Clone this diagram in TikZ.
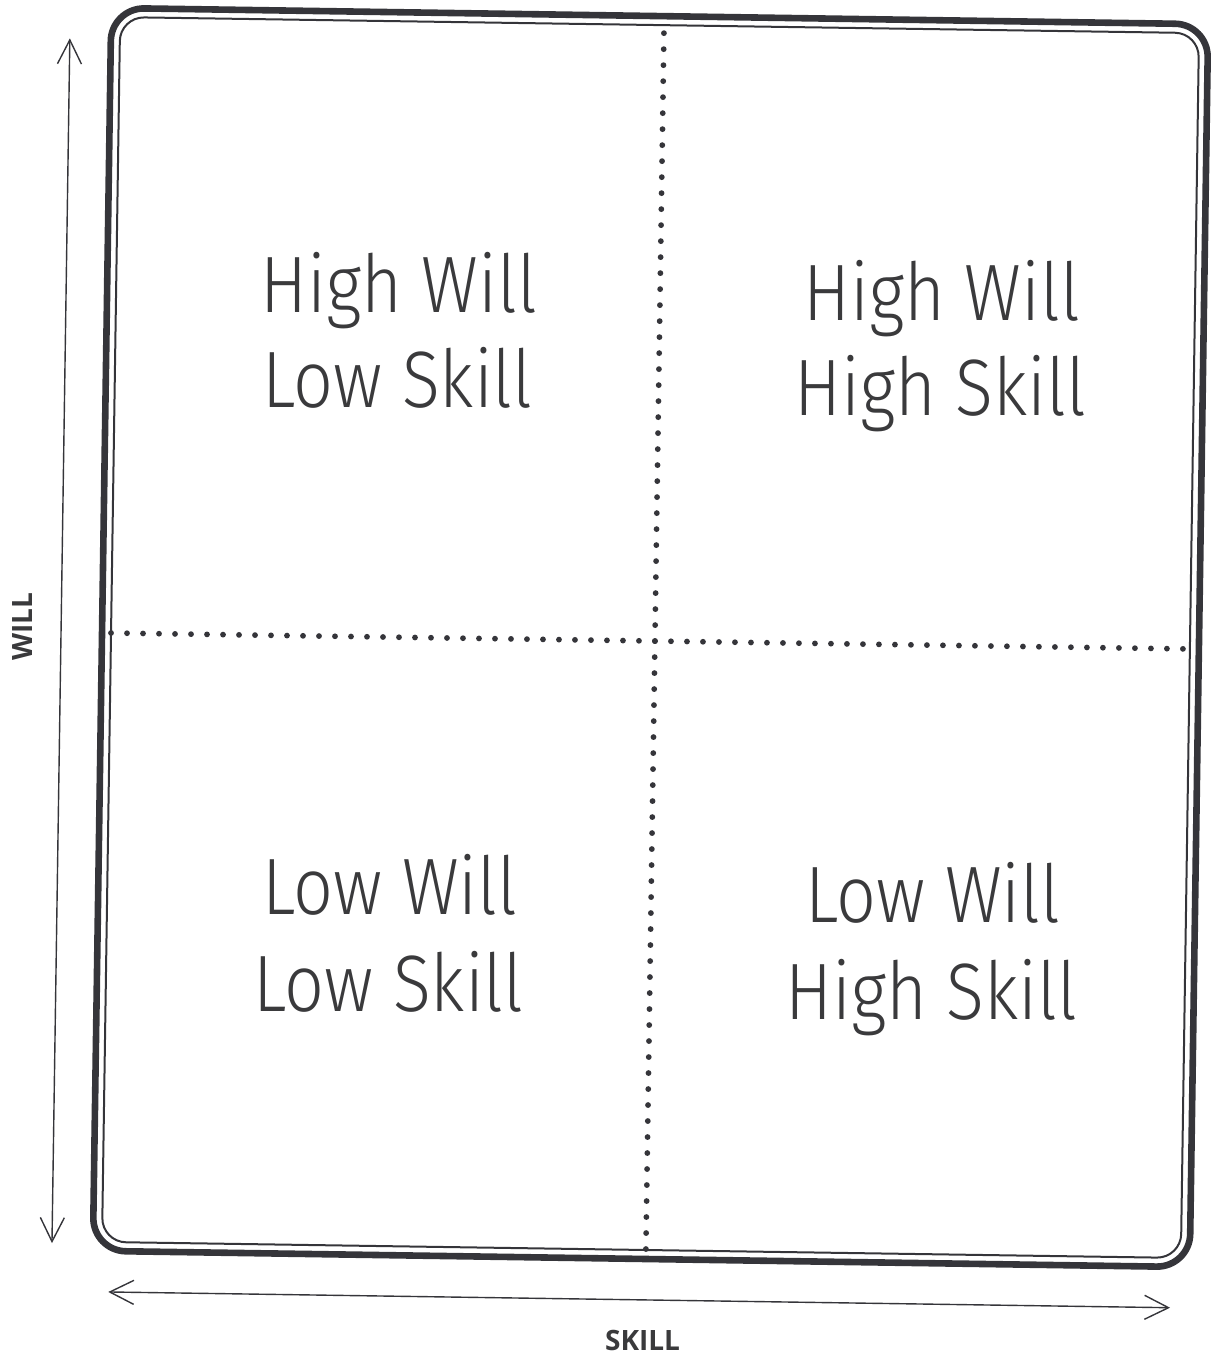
\documentclass[tikz,border=0pt]{standalone}
\usepackage{fontspec}
\usetikzlibrary{arrows.meta}
\IfFontExistsTF{Fira Sans Light}{\newfontfamily\qfont{Fira Sans Light}[FakeStretch=0.875]}{%
  \IfFontExistsTF{Open Sans Light}{\newfontfamily\qfont{Open Sans Light}[FakeStretch=0.875]}{\newfontfamily\qfont{Fira Sans}[FakeStretch=0.875]}}
\newfontfamily\labfont{Open Sans}
\definecolor{ink}{HTML}{35353A}
\definecolor{txt}{HTML}{3A3A3C}
\tikzset{
  frameouter/.style={draw=ink, line width=3.3pt, rounded corners=16.5pt},
  frameinner/.style={draw=ink, line width=1pt, rounded corners=12pt},
  dotline/.style={draw=ink, line width=2.9pt, line cap=round, dash pattern=on 0pt off 8pt},
  axisarrow/.style={draw=ink, line width=0.7pt, {Straight Barb[length=12pt,width=12pt]}-{Straight Barb[length=12pt,width=12pt]}},
  qtext/.style={text=txt, font=\qfont\fontsize{40}{48}\selectfont, inner sep=0pt, anchor=base},
  axislabel/.style={text=txt, font=\labfont\bfseries\fontsize{14}{16}\selectfont, inner sep=0pt},
}
\begin{document}
\begin{tikzpicture}[x=0.5pt,y=-0.5pt]
\useasboundingbox (0,0) rectangle (1212,1355);
\begin{scope}[rotate around={-0.85:(650,638)}]
  % frame
  \draw[frameouter] (102,16) rectangle (1199,1259);
  \draw[frameinner] (111,25) rectangle (1190,1250);
  % dotted dividers
  \coordinate (vtop) at (655,33);
  \coordinate (vbot) at (655,1250);
  \coordinate (hleft) at (111,641);
  \coordinate (hright) at (1192,641);
  \draw[dotline] (vtop) -- (vbot);
  \draw[dotline] (hleft) -- (hright);
  % axes
  \coordinate (wtop) at (61,47);
  \coordinate (wbot) at (61,1252);
  \coordinate (sleft) at (118,1300);
  \coordinate (sright) at (1180,1300);
  \draw[axisarrow] (wtop) -- (wbot);
  \draw[axisarrow] (sleft) -- (sright);
  \node[axislabel, rotate=90] (will) at (22,636) {WILL};
  \node[axislabel] (skill) at (653,1341) {SKILL};
  % quadrant texts
  \node[qtext] (tl1) at (394,316) {High Will};
  \node[qtext] (tl2) at (394,411) {Low Skill};
  \node[qtext] (tr1) at (937,316) {High Will};
  \node[qtext] (tr2) at (937,411) {High Skill};
  \node[qtext] (bl1) at (394,918) {Low Will};
  \node[qtext] (bl2) at (394,1015) {Low Skill};
  \node[qtext] (br1) at (937,918) {Low Will};
  \node[qtext] (br2) at (937,1015) {High Skill};
\end{scope}
\end{tikzpicture}
\end{document}
